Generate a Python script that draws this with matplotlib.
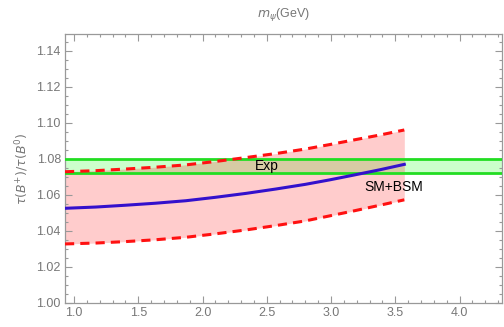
"""Lifetime ratio tau(B+)/tau(B0) against m_psi"""

import matplotlib
matplotlib.use("Agg")
import matplotlib.pyplot as plt
import numpy as np
from matplotlib.ticker import MultipleLocator

# values
m_psi = [0.93, 1.17, 1.40, 1.63, 1.87, 2.10, 2.34, 2.57, 2.80, 2.99, 3.18, 3.38, 3.57]
ratio_upper = [1.0729, 1.0735, 1.0744, 1.0754, 1.0767, 1.0786, 1.0808,
               1.0830, 1.0855, 1.0880, 1.0906, 1.0933, 1.0961]
ratio_central = [1.0526, 1.0533, 1.0543, 1.0554, 1.0568, 1.0587, 1.0609,
                 1.0633, 1.0659, 1.0684, 1.0711, 1.0740, 1.0770]
ratio_lower = [1.0328, 1.0333, 1.0341, 1.0351, 1.0365, 1.0384, 1.0406,
               1.0430, 1.0456, 1.0484, 1.0512, 1.0543, 1.0573]
exp_low, exp_high = 1.072, 1.080

plt.rcParams['font.family'] = ['Liberation Sans', 'DejaVu Sans']
gray = '#777777'

fig = plt.figure(figsize=(5.04, 3.27), dpi=100)
ax = fig.add_axes([0.129, 0.0734, 0.867, 0.8226])

# theory band
ax.fill_between(m_psi, ratio_lower, ratio_upper, color='#ffcccc', lw=0, zorder=1)
# experimental band, and where it overlaps the theory band
ax.axhspan(exp_low, exp_high, color='#ccffcc', lw=0, zorder=0.5)
ov_lo = np.maximum(ratio_lower, exp_low)
ov_hi = np.minimum(ratio_upper, exp_high)
ax.fill_between(m_psi, ov_lo, ov_hi, where=ov_hi > ov_lo, interpolate=True,
                color='#d6cba4', lw=0, zorder=2)
ax.axhline(exp_low, color='#22dd22', lw=2.0, zorder=3)
ax.axhline(exp_high, color='#22dd22', lw=2.0, zorder=3)

ax.plot(m_psi, ratio_upper, color='#ff1111', lw=2.2, dashes=(3, 2), zorder=4)
ax.plot(m_psi, ratio_lower, color='#ff1111', lw=2.2, dashes=(3, 2), zorder=4)
ax.plot(m_psi, ratio_central, color='#3311cc', lw=2.2, zorder=5)

ax.text(2.41, 1.0762, "Exp", fontsize=10, va='center', ha='left', zorder=6)
ax.text(3.49, 1.0642, "SM+BSM", fontsize=10, va='center', ha='center', zorder=6)

ax.set_xlim(0.93, 4.33)
ax.set_ylim(1.00, 1.1494)
ax.xaxis.set_major_locator(MultipleLocator(0.5))
ax.xaxis.set_minor_locator(MultipleLocator(0.1))
ax.yaxis.set_major_locator(MultipleLocator(0.02))
ax.yaxis.set_minor_locator(MultipleLocator(0.005))
ax.xaxis.set_major_formatter(plt.FormatStrFormatter('%.1f'))
ax.yaxis.set_major_formatter(plt.FormatStrFormatter('%.2f'))

ax.tick_params(which='both', direction='in', top=True, right=True,
               color='#999999', labelcolor=gray, labelsize=9, width=0.8)
ax.tick_params(which='major', length=5, pad=3)
ax.tick_params(which='minor', length=2.5)
for s in ax.spines.values():
    s.set_color('#999999')
    s.set_linewidth(0.9)

ax.set_title(r"$m_\psi$(GeV)", color=gray, fontsize=9, pad=12)
ax.set_ylabel(r"$\tau(B^{+})/\tau(B^{0})$", color=gray, fontsize=9, labelpad=4)

fig.savefig("out.png", dpi=100)
